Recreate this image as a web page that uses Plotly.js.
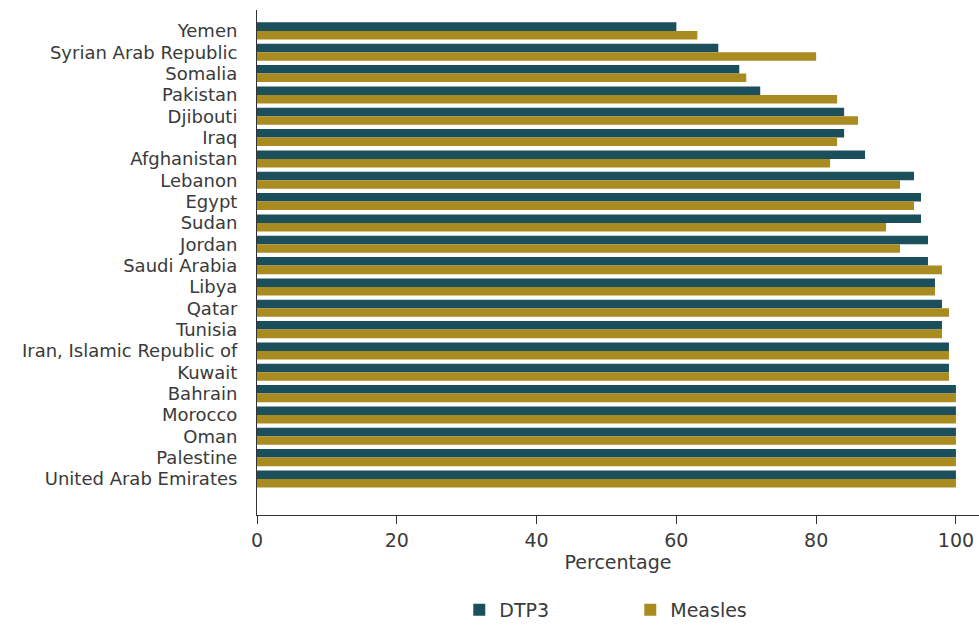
<!DOCTYPE html>
<html>
<head>
<meta charset="utf-8">
<script src="https://cdn.plot.ly/plotly-3.0.1.min.js"></script>
<style>html,body{margin:0;padding:0;background:#fff;}#chart{width:979px;height:626px;}</style>
</head>
<body>
<div id="chart"></div>
<script>
const countries = ["Yemen","Syrian Arab Republic","Somalia","Pakistan","Djibouti","Iraq","Afghanistan","Lebanon","Egypt","Sudan","Jordan","Saudi Arabia","Libya","Qatar","Tunisia","Iran, Islamic Republic of","Kuwait","Bahrain","Morocco","Oman","Palestine","United Arab Emirates"];
const dtp3 = [60,66,69,72,84,84,87,94,95,95,96,96,97,98,98,99,99,100,100,100,100,100];
const measles = [63,80,70,83,86,83,82,92,94,90,92,98,97,99,98,99,99,100,100,100,100,100];
const xTicks = [0,20,40,60,80,100];

const font = "DejaVu Sans, sans-serif";
const traces = [
  {type:"bar", orientation:"h", name:"DTP3", y:countries, x:dtp3, marker:{color:"#1a4f5b"}, hoverinfo:"x+y"},
  {type:"bar", orientation:"h", name:"Measles", y:countries, x:measles, marker:{color:"#a98b1f"}, hoverinfo:"x+y"}
];
const layout = {
  width:979, height:626,
  margin:{l:257, r:0, t:10, b:111, autoexpand:false},
  paper_bgcolor:"#fff", plot_bgcolor:"#fff",
  font:{family:font, size:18, color:"#3a3a3a"},
  barmode:"group", bargap:0.2, bargroupgap:0,
  showlegend:true,
  legend:{orientation:"h", x:0.517, xanchor:"center", y:-0.188, yanchor:"middle", entrywidth:126, entrywidthmode:"pixels", font:{size:19, color:"#3a3a3a"}, traceorder:"normal"},
  xaxis:{automargin:false, range:[0,103.3], tickvals:xTicks, ticktext:xTicks.map(String), showgrid:false, zeroline:false, showline:true, linecolor:"#333", linewidth:1, ticks:"outside", ticklen:8, tickcolor:"#333", ticklabelstandoff:0, tickfont:{size:19, color:"#3a3a3a"},
    title:{text:"Percentage", font:{size:19, color:"#3a3a3a"}, standoff:5}},
  yaxis:{automargin:false, type:"category", range:[22.69,-0.98], tickmode:"array", tickvals:countries, ticktext:countries, showgrid:false, zeroline:false, showline:true, linecolor:"#333", linewidth:1, ticks:"", ticklabelstandoff:15, tickfont:{size:18, color:"#3a3a3a"}}
};
Plotly.newPlot("chart", traces, layout, {displayModeBar:false, staticPlot:true});
</script>
</body>
</html>
